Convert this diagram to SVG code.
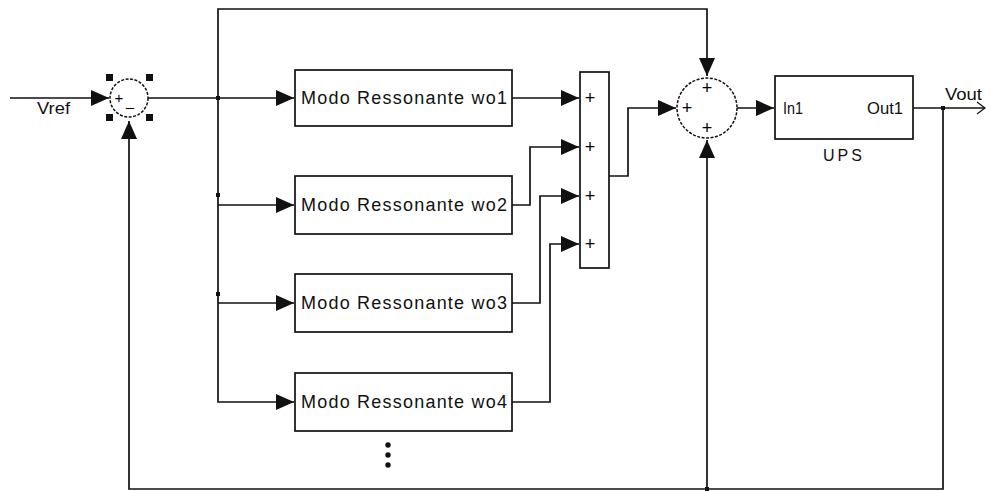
<svg xmlns="http://www.w3.org/2000/svg" width="991" height="491" viewBox="0 0 991 491">
<style>
.ln{fill:none;stroke:#111;stroke-width:1.7}
.blk{fill:#fff;stroke:#111;stroke-width:1.7}
.sum{fill:#fff;stroke:#111;stroke-width:1.5;stroke-dasharray:3 1.5}
.t{font-family:"Liberation Sans",Arial,sans-serif;fill:#111}
.bt{font-size:18px}
.s{font-size:16px}
.pm{font-size:18px;font-family:"Liberation Sans",Arial,sans-serif;fill:#000;text-anchor:middle}
</style>
<defs>
<marker id="a" markerUnits="userSpaceOnUse" markerWidth="19" markerHeight="17" refX="18" refY="8" orient="auto" overflow="visible">
<path d="M0,0 L18,8 L0,16 z" fill="#111"/>
</marker>
<marker id="o" markerUnits="userSpaceOnUse" markerWidth="10" markerHeight="12" refX="8" refY="6" orient="auto" overflow="visible">
<path d="M0,0 L8,6 L0,12" fill="none" stroke="#111" stroke-width="1.2"/>
</marker>
</defs>
<rect width="991" height="491" fill="#fff"/>
<g id="connectors">
<path class="ln" d="M10,98 H109" marker-end="url(#a)"/>
<path class="ln" d="M148,98 H294" marker-end="url(#a)"/>
<path class="ln" d="M218,98 V9 H707 V76" marker-end="url(#a)"/>
<path class="ln" d="M218,98 V402 H294" marker-end="url(#a)"/>
<path class="ln" d="M218,205 H294" marker-end="url(#a)"/>
<path class="ln" d="M218,303 H294" marker-end="url(#a)"/>
<path class="ln" d="M512,98 H579" marker-end="url(#a)"/>
<path class="ln" d="M512,205 H530 V147 H579" marker-end="url(#a)"/>
<path class="ln" d="M512,303 H540 V196 H579" marker-end="url(#a)"/>
<path class="ln" d="M512,402 H550 V244 H579" marker-end="url(#a)"/>
<path class="ln" d="M609,176 H628 V108 H676" marker-end="url(#a)"/>
<path class="ln" d="M737,108 H774" marker-end="url(#a)"/>
<path class="ln" d="M913,108 H985" marker-end="url(#o)"/>
<path class="ln" d="M943,108 V489 H129 V121" marker-end="url(#a)"/>
<path class="ln" d="M707,489 V140" marker-end="url(#a)"/>
<rect x="216" y="96" width="4" height="4" fill="#111"/>
<rect x="216" y="193" width="4" height="4" fill="#111"/>
<rect x="216" y="292" width="4" height="4" fill="#111"/>
<rect x="941" y="106" width="4" height="4" fill="#111"/>
<rect x="705" y="487" width="4" height="4" fill="#111"/>
</g>
<g id="vref-label"><text class="t s" x="37" y="114" textLength="33" lengthAdjust="spacingAndGlyphs">Vref</text></g>
<g id="sum1">
<circle class="sum" cx="129" cy="98" r="19"/>
<text class="pm" x="119" y="103" style="font-size:15px">+</text>
<text class="pm" x="130" y="112" style="font-size:15px">–</text>
<rect x="106" y="74" width="7" height="7" fill="#111"/>
<rect x="146" y="74" width="7" height="7" fill="#111"/>
<rect x="106" y="114" width="7" height="7" fill="#111"/>
<rect x="146" y="114" width="7" height="7" fill="#111"/>
</g>
<g id="mode1"><rect class="blk" x="295" y="70" width="217" height="56"/><text class="t bt" x="301" y="104" textLength="206" lengthAdjust="spacing">Modo Ressonante wo1</text></g>
<g id="mode2"><rect class="blk" x="295" y="176" width="217" height="58"/><text class="t bt" x="301" y="211" textLength="206" lengthAdjust="spacing">Modo Ressonante wo2</text></g>
<g id="mode3"><rect class="blk" x="295" y="274" width="217" height="58"/><text class="t bt" x="301" y="309" textLength="206" lengthAdjust="spacing">Modo Ressonante wo3</text></g>
<g id="mode4"><rect class="blk" x="295" y="373" width="217" height="58"/><text class="t bt" x="301" y="408" textLength="206" lengthAdjust="spacing">Modo Ressonante wo4</text></g>
<g id="ellipsis">
<circle cx="388" cy="445" r="2.7" fill="#111"/>
<circle cx="388" cy="455" r="2.7" fill="#111"/>
<circle cx="388" cy="465" r="2.7" fill="#111"/>
</g>
<g id="sumbar">
<rect class="blk" x="580" y="72" width="29" height="196"/>
<text class="pm" x="590" y="104">+</text>
<text class="pm" x="590" y="153">+</text>
<text class="pm" x="590" y="202">+</text>
<text class="pm" x="590" y="250">+</text>
</g>
<g id="sum2">
<circle class="sum" cx="707" cy="108" r="30"/>
<text class="pm" x="707" y="94">+</text>
<text class="pm" x="687" y="114">+</text>
<text class="pm" x="707" y="134">+</text>
</g>
<g id="ups">
<rect class="blk" x="775" y="76" width="138" height="63"/>
<text class="t s" x="783" y="114" textLength="20" lengthAdjust="spacingAndGlyphs">In1</text>
<text class="t s" x="867" y="114" textLength="36" lengthAdjust="spacingAndGlyphs">Out1</text>
<text class="t s" x="823" y="161" textLength="39" lengthAdjust="spacing">UPS</text>
</g>
<g id="vout-label"><text class="t s" x="945" y="100" textLength="37" lengthAdjust="spacingAndGlyphs">Vout</text></g>
</svg>
